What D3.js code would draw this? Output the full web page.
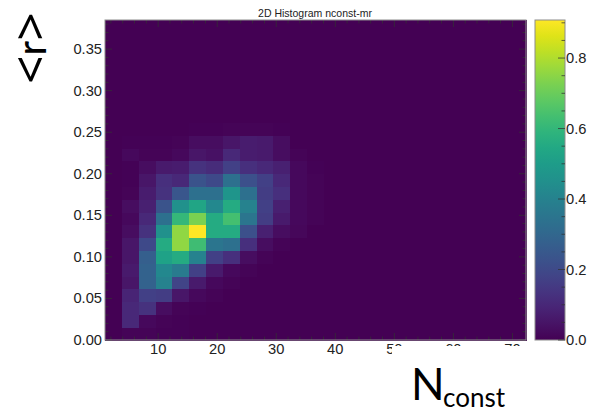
<!DOCTYPE html>
<html>
<head>
<meta charset="utf-8">
<script src="https://cdn.jsdelivr.net/npm/d3@7"></script>
<style>
  html, body { margin: 0; padding: 0; background: #fff; }
  svg { display: block; }
  text { font-family: "Liberation Sans", sans-serif; fill: #222; }
</style>
</head>
<body>
<svg id="chart" width="590" height="410"></svg>
<script>
/* data */
const xBinEdges = [1, 72.3];
const yBinEdges = [0, 0.385];
const binCount = 25;
// one row per y bin, bottom row first; columns left to right, rest of the row is ~0
const row00 = [0.00, 0.01, 0.01, 0.005, 0.005];
const row01 = [0.00, 0.10, 0.02, 0.01, 0.005];
const row02 = [0.00, 0.10, 0.13, 0.03, 0.01, 0.005];
const row03 = [0.00, 0.09, 0.17, 0.16, 0.05, 0.02, 0.01];
const row04 = [0.00, 0.05, 0.28, 0.40, 0.18, 0.06, 0.02, 0.01];
const row05 = [0.00, 0.06, 0.28, 0.42, 0.37, 0.17, 0.06, 0.02, 0.01];
const row06 = [0.00, 0.05, 0.27, 0.52, 0.55, 0.40, 0.17, 0.12, 0.03, 0.01];
const row07 = [0.00, 0.05, 0.20, 0.55, 0.75, 0.62, 0.35, 0.33, 0.12, 0.03, 0.01];
const row08 = [0.00, 0.03, 0.13, 0.45, 0.75, 0.90, 0.55, 0.55, 0.22, 0.08, 0.03, 0.015];
const row09 = [0.00, 0.02, 0.10, 0.33, 0.60, 0.72, 0.55, 0.63, 0.35, 0.16, 0.06, 0.02, 0.01];
const row10 = [0.00, 0.03, 0.08, 0.23, 0.45, 0.53, 0.42, 0.55, 0.40, 0.17, 0.08, 0.02, 0.01];
const row11 = [0.00, 0.01, 0.07, 0.13, 0.24, 0.33, 0.33, 0.47, 0.33, 0.16, 0.12, 0.02, 0.01];
const row12 = [0.00, 0.005, 0.05, 0.12, 0.10, 0.23, 0.20, 0.33, 0.22, 0.17, 0.10, 0.02, 0.01];
const row13 = [0.00, 0.005, 0.03, 0.06, 0.07, 0.13, 0.11, 0.17, 0.12, 0.10, 0.08, 0.02, 0.005];
const row14 = [0.00, 0.02, 0.01, 0.01, 0.02, 0.05, 0.04, 0.10, 0.07, 0.06, 0.03, 0.01];
const row15 = [0.00, 0.005, 0.005, 0.005, 0.01, 0.03, 0.03, 0.05, 0.07, 0.06, 0.03];
const row16 = [0.00, 0.00, 0.00, 0.00, 0.00, 0.005, 0.005, 0.01, 0.01, 0.01, 0.005];
const histRows = [row00, row01, row02, row03, row04, row05, row06, row07, row08,
                  row09, row10, row11, row12, row13, row14, row15, row16];
const xMajor = [10, 20, 30, 40, 50, 60, 70];
const yMajor = [0, 0.05, 0.10, 0.15, 0.20, 0.25, 0.30, 0.35];
const cbMajor = [0, 0.2, 0.4, 0.6, 0.8];
const cbMax = 0.908;
const titleText = '2D Histogram nconst-mr';

/* layout */
const plot = { left: 105, right: 526, top: 20, bottom: 340 };
const cbar = { left: 535, right: 565 };
const frameColor = '#8c8c8c';
const tickColor = '#333';

const svg = d3.select('#chart');
const x = d3.scaleLinear().domain(xBinEdges).range([plot.left, plot.right]);
const y = d3.scaleLinear().domain(yBinEdges).range([plot.bottom, plot.top]);
const color = v => d3.interpolateViridis(v / 0.9);

const dx = (xBinEdges[1] - xBinEdges[0]) / binCount;
const dy = (yBinEdges[1] - yBinEdges[0]) / binCount;

/* cells */
const cells = [];
for (let j = 0; j < binCount; j++) {
  for (let i = 0; i < binCount; i++) {
    const r = histRows[j] || [];
    cells.push({ i, j, v: r[i] || 0 });
  }
}
svg.append('g').attr('shape-rendering', 'crispEdges')
  .selectAll('rect').data(cells).join('rect')
    .attr('x', d => x(xBinEdges[0] + d.i * dx))
    .attr('y', d => y(yBinEdges[0] + (d.j + 1) * dy))
    .attr('width', x(xBinEdges[0] + dx) - x(xBinEdges[0]) + 0.5)
    .attr('height', y(0) - y(dy) + 0.5)
    .attr('fill', d => color(d.v));

/* ticks, inward */
function tickLines(g, vals, fn) {
  g.selectAll(null).data(vals).join('line').each(function (d) {
    const p = fn(d);
    d3.select(this).attr('x1', p[0]).attr('y1', p[1]).attr('x2', p[2]).attr('y2', p[3]);
  });
}
const ticks = svg.append('g').attr('stroke', tickColor).attr('stroke-width', 1).attr('opacity', 0.75);
const xMinor = d3.range(2, 72, 2).filter(v => v % 10 !== 0);
const yMinor = d3.range(0.01, 0.385, 0.01).filter(v => Math.round(v * 100) % 5 !== 0);
tickLines(ticks, xMajor, v => [x(v), plot.bottom, x(v), plot.bottom - 7]);
tickLines(ticks, xMinor, v => [x(v), plot.bottom, x(v), plot.bottom - 3.5]);
tickLines(ticks, yMajor, v => [plot.left, y(v), plot.left + 7, y(v)]);
tickLines(ticks, yMinor, v => [plot.left, y(v), plot.left + 3.5, y(v)]);
tickLines(ticks, yMajor, v => [plot.right, y(v), plot.right - 7, y(v)]);
tickLines(ticks, yMinor, v => [plot.right, y(v), plot.right - 3.5, y(v)]);
tickLines(ticks, xMajor, v => [x(v), plot.top, x(v), plot.top + 7]);
tickLines(ticks, xMinor, v => [x(v), plot.top, x(v), plot.top + 3.5]);

svg.append('rect')
  .attr('x', plot.left).attr('y', plot.top)
  .attr('width', plot.right - plot.left).attr('height', plot.bottom - plot.top)
  .attr('fill', 'none').attr('stroke', frameColor);

/* tick labels */
svg.append('g').attr('font-size', 14.7).attr('text-anchor', 'middle')
  .selectAll('text').data(xMajor).join('text')
    .attr('x', d => x(d)).attr('y', 354).text(d => d);
svg.append('g').attr('font-size', 14.7).attr('text-anchor', 'end')
  .selectAll('text').data(yMajor).join('text')
    .attr('x', plot.left - 3).attr('y', d => y(d) + 5).text(d => d3.format('.2f')(d));

/* colorbar */
const cb = d3.scaleLinear().domain([0, cbMax]).range([plot.bottom, plot.top]);
const defs = svg.append('defs');
const grad = defs.append('linearGradient').attr('id', 'cbg')
  .attr('x1', 0).attr('y1', 1).attr('x2', 0).attr('y2', 0);
d3.range(0, 1.001, 0.05).forEach(t => {
  grad.append('stop').attr('offset', t).attr('stop-color', d3.interpolateViridis(t));
});
svg.append('rect')
  .attr('x', cbar.left).attr('y', plot.top)
  .attr('width', cbar.right - cbar.left).attr('height', plot.bottom - plot.top)
  .attr('fill', 'url(#cbg)').attr('stroke', frameColor);
const cbTicks = svg.append('g').attr('stroke', tickColor).attr('opacity', 0.75);
tickLines(cbTicks, cbMajor, v => [cbar.right, cb(v), cbar.right - 7, cb(v)]);
tickLines(cbTicks, d3.range(0.05, 0.95, 0.05).filter(v => Math.round(v * 100) % 20 !== 0),
  v => [cbar.right, cb(v), cbar.right - 3.5, cb(v)]);
svg.append('g').attr('font-size', 14.7)
  .selectAll('text').data(cbMajor).join('text')
    .attr('x', cbar.right + 1).attr('y', d => cb(d) + 5).text(d => d.toFixed(1));

/* title */
svg.append('text').attr('x', 315).attr('y', 17).attr('text-anchor', 'middle')
  .attr('font-size', 10.5).text(titleText);

/* axis label box hides part of the lower tick labels */
svg.append('rect')
  .attr('x', 392).attr('y', 346).attr('width', 140).attr('height', 60)
  .attr('fill', '#fff');

/* axis labels */
svg.append('text').attr('x', 411).attr('y', 400)
  .style('font-family', 'Lato').style('fill', '#000')
  .attr('font-size', 44).text('N');
svg.append('text').attr('x', 443).attr('y', 407)
  .style('font-family', 'Lato').style('fill', '#000')
  .attr('font-size', 26).text('const');

const yl = svg.append('text')
  .attr('transform', 'translate(48,84) rotate(-90)')
  .style('font-family', '"Noto Sans"').style('font-weight', 400).style('fill', '#000');
yl.append('tspan').attr('font-size', 50).text('<');
yl.append('tspan').style('font-family', 'Lato').style('font-weight', 400).attr('font-size', 40).attr('dy', -2).text('r');
yl.append('tspan').attr('font-size', 50).attr('dy', 2).text('>');
</script>
</body>
</html>
